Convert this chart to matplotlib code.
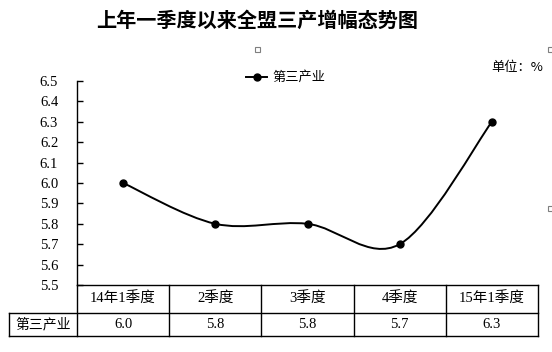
import matplotlib
matplotlib.use("Agg")
import matplotlib.pyplot as plt
from matplotlib.path import Path
from matplotlib.patches import PathPatch, Rectangle
from matplotlib.lines import Line2D
import matplotlib.transforms as mtransforms

title = "上年一季度以来全盟三产增幅态势图"
categories = ["14年1季度", "2季度", "3季度", "4季度", "15年1季度"]
series_name = "第三产业"
values = [6.0, 5.8, 5.8, 5.7, 6.3]
yticks = [5.5, 5.6, 5.7, 5.8, 5.9, 6.0, 6.1, 6.2, 6.3, 6.4, 6.5]
unit_label = "单位：%"

W, H = 552, 352
fig = plt.figure(figsize=(W / 100, H / 100), dpi=100)
fig.patch.set_facecolor("white")

def fx(px):
    return px / W

def fy(py):
    return 1 - py / H

L, R, T, B = 77, 538, 81, 285
ax = fig.add_axes([fx(L), fy(B), fx(R) - fx(L), fy(T) - fy(B)])

serif_cjk = ["Liberation Serif", "Noto Sans CJK SC"]
cjk = ["Noto Sans CJK SC", "DejaVu Sans"]

n = len(values)
xs = list(range(n))
ax.set_xlim(-0.5, n - 0.5)
ax.set_ylim(yticks[0], yticks[-1])

# Excel-style smoothed line (cubic Bezier, 1/6 tangent)
pts = list(zip(xs, values))
verts = [pts[0]]
codes = [Path.MOVETO]
for i in range(n - 1):
    p0 = pts[i - 1] if i > 0 else pts[i]
    p1 = pts[i]
    p2 = pts[i + 1]
    p3 = pts[i + 2] if i + 2 < n else pts[i + 1]
    c1 = (p1[0] + (p2[0] - p0[0]) / 6, p1[1] + (p2[1] - p0[1]) / 6)
    c2 = (p2[0] - (p3[0] - p1[0]) / 6, p2[1] - (p3[1] - p1[1]) / 6)
    verts += [c1, c2, p2]
    codes += [Path.CURVE4] * 3
ax.add_patch(PathPatch(Path(verts, codes), facecolor="none", edgecolor="black",
                       lw=1.4, clip_on=False, zorder=3))
ax.plot(xs, values, linestyle="none", marker="o", color="black",
        markersize=5, zorder=4, clip_on=False)

# spines / ticks
for s in ["top", "right"]:
    ax.spines[s].set_visible(False)
ax.spines["left"].set_linewidth(1.0)
ax.spines["bottom"].set_linewidth(1.0)
ax.set_xticks([])
ax.set_yticks(yticks)
ax.set_yticklabels([f"{v:.1f}" for v in yticks], fontfamily="Liberation Serif",
                   fontsize=10.5)
ax.tick_params(axis="y", direction="in", length=4, width=1.0, pad=13.5)

# data table below the axes
blend = mtransforms.blended_transform_factory(ax.transData, ax.transAxes)
ppy = 1.0 / (B - T)  # axes fraction per pixel
row1_bot = -(313 - B) * ppy
row2_bot = -(336 - B) * ppy
label_left = -0.5 + (9 - L) / ((R - L) / n)
lw = 1.0
# horizontal lines
ax.add_line(Line2D([label_left, n - 0.5], [row1_bot, row1_bot], transform=blend,
                   color="black", lw=lw, clip_on=False))
ax.add_line(Line2D([label_left, n - 0.5], [row2_bot, row2_bot], transform=blend,
                   color="black", lw=lw, clip_on=False))
# vertical lines
for k in range(n + 1):
    xb = -0.5 + k
    ax.add_line(Line2D([xb, xb], [0, row2_bot], transform=blend,
                       color="black", lw=lw, clip_on=False))
ax.add_line(Line2D([label_left, label_left], [row1_bot, row2_bot], transform=blend,
                   color="black", lw=lw, clip_on=False))
for i, (c, v) in enumerate(zip(categories, values)):
    ax.text(i, row1_bot / 2, c, transform=blend, ha="center", va="center",
            fontfamily=serif_cjk, fontsize=10.5)
    ax.text(i, (row1_bot + row2_bot) / 2, f"{v:.1f}", transform=blend,
            ha="center", va="center", fontfamily=serif_cjk, fontsize=10.5)
ax.text((label_left - 0.5) / 2, (row1_bot + row2_bot) / 2, series_name,
        transform=blend, ha="center", va="center", fontfamily=cjk, fontsize=10)

# title
fig.text(fx(257), fy(20), title, ha="center", va="center", fontfamily=cjk,
         fontweight="bold", fontsize=14.5)

# legend (manual)
fig.add_artist(Line2D([fx(246), fx(267)], [fy(77), fy(77)], color="black", lw=1.4,
                      transform=fig.transFigure))
fig.add_artist(Line2D([fx(256.5)], [fy(77)], marker="o", color="black",
                      markersize=5, transform=fig.transFigure))
fig.text(fx(272), fy(77), series_name, ha="left", va="center", fontfamily=cjk,
         fontsize=9.5)

# unit
fig.text(fx(543), fy(67), unit_label, ha="right", va="center", fontfamily=cjk,
         fontsize=9.5)

# selection handles
for cx, cy in [(257, 49), (550, 49), (550, 208)]:
    fig.add_artist(Rectangle((fx(cx - 2.5), fy(cy + 2.5)), fx(5), 5 / H,
                             transform=fig.transFigure, facecolor="white",
                             edgecolor="#7f7f7f", lw=0.8))

fig.savefig("out.png", dpi=100)
